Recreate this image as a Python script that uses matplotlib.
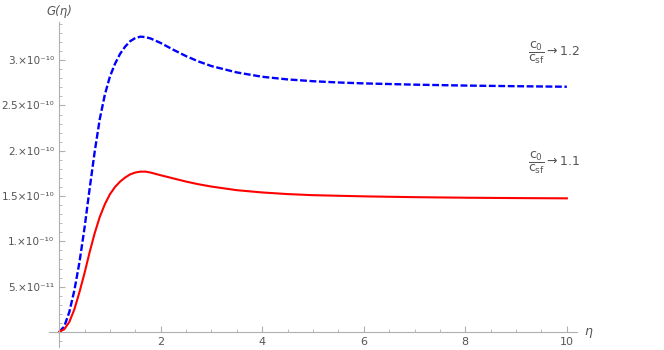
import numpy as np
import matplotlib
matplotlib.use("Agg")
import matplotlib.pyplot as plt
from matplotlib.ticker import FixedLocator, MultipleLocator

# ---- data (G in units of 1e-10) ----
eta_blue = [0, 0.1, 0.2, 0.3, 0.4, 0.5, 0.6, 0.7, 0.8, 0.9, 1.0, 1.1, 1.2, 1.3, 1.4,
            1.5, 1.6, 1.7, 1.8, 1.9, 2.0, 2.25, 2.5, 2.75, 3.0, 3.5, 4.0, 4.5, 5.0,
            5.5, 6.0, 7.0, 8.0, 9.0, 10.0]
g_blue = [0, 0.06, 0.22, 0.46, 0.77, 1.15, 1.58, 1.99, 2.35, 2.62, 2.82, 2.96, 3.07,
          3.15, 3.21, 3.245, 3.26, 3.255, 3.24, 3.215, 3.19, 3.115, 3.045, 2.985, 2.935,
          2.865, 2.817, 2.788, 2.768, 2.754, 2.744, 2.73, 2.72, 2.713, 2.707]

eta_red = [0, 0.1, 0.2, 0.3, 0.4, 0.5, 0.6, 0.7, 0.8, 0.9, 1.0, 1.1, 1.2, 1.3, 1.4,
           1.5, 1.6, 1.7, 1.8, 1.9, 2.0, 2.25, 2.5, 2.75, 3.0, 3.5, 4.0, 4.5, 5.0,
           6.0, 7.0, 8.0, 9.0, 10.0]
g_red = [0, 0.03, 0.11, 0.25, 0.44, 0.65, 0.88, 1.09, 1.27, 1.41, 1.52, 1.60, 1.66,
         1.705, 1.74, 1.76, 1.77, 1.77, 1.76, 1.745, 1.73, 1.695, 1.66, 1.63, 1.605,
         1.565, 1.54, 1.522, 1.51, 1.497, 1.488, 1.482, 1.478, 1.475]

ytick_vals = [0.5e-10, 1.0e-10, 1.5e-10, 2.0e-10, 2.5e-10, 3.0e-10]
ytick_labels = ["5.×10⁻¹¹", "1.×10⁻¹⁰", "1.5×10⁻¹⁰", "2.×10⁻¹⁰", "2.5×10⁻¹⁰", "3.×10⁻¹⁰"]
xtick_vals = [2, 4, 6, 8, 10]
xtick_labels = ["2", "4", "6", "8", "10"]

label_blue = r"$\dfrac{c_0}{c_{\mathrm{sf}}}\rightarrow 1.2$"
label_red = r"$\dfrac{c_0}{c_{\mathrm{sf}}}\rightarrow 1.1$"

plt.rcParams["mathtext.fontset"] = "dejavusans"
plt.rcParams["mathtext.default"] = "regular"

W, H = 664, 350
fig = plt.figure(figsize=(W / 100, H / 100), dpi=100)
left, right, top, bottom = 49, 577, 21.7, 347
ax = fig.add_axes([left / W, 1 - bottom / H, (right - left) / W, (bottom - top) / H])

scale = 1e-10
ax.plot(eta_blue, np.array(g_blue) * scale, color="#0000ff", lw=1.7,
        dashes=(2.9, 1.1), dash_capstyle="butt", solid_joinstyle="round")
ax.plot(eta_red, np.array(g_red) * scale, color="#ff0000", lw=1.5,
        solid_joinstyle="round")

ax.set_xlim(-0.2, 10.2)
ax.set_ylim(-0.166e-10, 3.425e-10)

for s in ["top", "right"]:
    ax.spines[s].set_visible(False)
for s in ["left", "bottom"]:
    ax.spines[s].set_position(("data", 0))
    ax.spines[s].set_color("#b0b0b0")
    ax.spines[s].set_linewidth(0.8)

ax.xaxis.set_major_locator(FixedLocator(xtick_vals))
ax.set_xticklabels(xtick_labels)
ax.xaxis.set_minor_locator(MultipleLocator(0.5))
ax.yaxis.set_major_locator(FixedLocator(ytick_vals))
ax.set_yticklabels(ytick_labels)
ax.yaxis.set_minor_locator(MultipleLocator(0.1e-10))

ax.tick_params(which="both", direction="in", color="#b0b0b0", labelcolor="#555555")
ax.tick_params(axis="x", labelsize=8)
ax.tick_params(axis="y", labelsize=7.6)
ax.tick_params(which="major", length=4, width=0.8, pad=3.4)
ax.tick_params(which="minor", length=2, width=0.6)

fig.text(59 / W, 1 - 11 / H, "G(η)", ha="center", va="center",
         fontsize=8.5, color="#555555", fontstyle="italic")
fig.text(588 / W, 1 - 331 / H, "η", ha="center", va="center",
         fontsize=9, color="#555555", fontstyle="italic")

fig.text(528 / W, 1 - 53 / H, label_blue, ha="left", va="center", fontsize=9,
         color="#555555")
fig.text(528 / W, 1 - 163 / H, label_red, ha="left", va="center", fontsize=9,
         color="#555555")

fig.savefig("out.png", dpi=100)
